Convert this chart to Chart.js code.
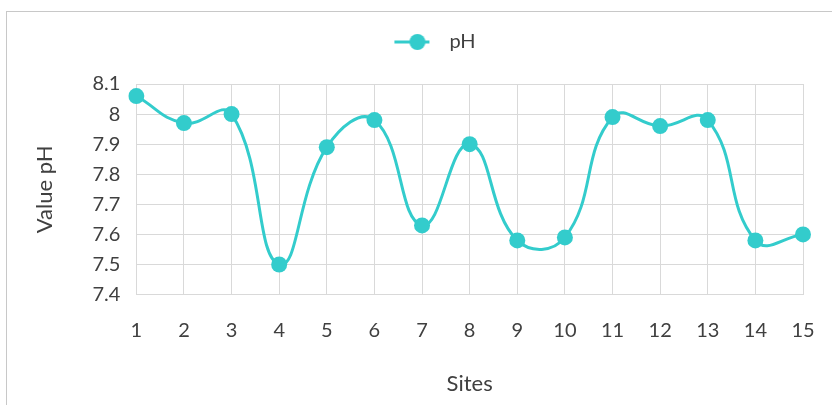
<!DOCTYPE html>
<html>
<head>
<meta charset="utf-8">
<script src="https://cdn.jsdelivr.net/npm/chart.js@4/dist/chart.umd.min.js"></script>
<style>
  html, body { margin: 0; padding: 0; background: #fff; }
  #wrap { position: absolute; left: 0; top: 0; width: 832px; height: 405px; }
  #frame { position: absolute; left: 6px; top: 11px; width: 840px; height: 420px;
           border-top: 1px solid #c8c8c8; border-left: 1px solid #c8c8c8; }
</style>
</head>
<body>
<div id="wrap">
  <div id="frame"></div>
  <canvas id="myChart" width="832" height="405"></canvas>
</div>
<script>
// sites along the x axis
var sites = ['1', '2', '3', '4', '5', '6', '7', '8', '9', '10', '11', '12', '13', '14', '15'];
// pH value at each site
var phValues = [8.06, 7.97, 8.00, 7.50, 7.89, 7.98, 7.63, 7.90, 7.58, 7.59, 7.99, 7.96, 7.98, 7.58, 7.60];
// y axis ticks
var yMin = 7.4, yMax = 8.1, yStep = 0.1;

var teal = '#33CCCC';
var textColor = '#404040';
var fontFamily = 'Lato, "Open Sans", sans-serif';

// line-with-dot marker for the legend, like the spreadsheet one
function legendMarker() {
    var c = document.createElement('canvas');
    c.width = 80; c.height = 20;
    var g = c.getContext('2d');
    g.strokeStyle = teal;
    g.lineWidth = 3;
    g.beginPath(); g.moveTo(35, 10); g.lineTo(70, 10); g.stroke();
    g.fillStyle = teal;
    g.beginPath(); g.arc(58, 10, 8, 0, Math.PI * 2); g.fill();
    return c;
}

// give the legend some extra room underneath
var legendSpace = {
    id: 'legendSpace',
    beforeInit: function (chart) {
        var origFit = chart.legend.fit;
        chart.legend.fit = function () {
            origFit.bind(chart.legend)();
            this.height += 22;
        };
    }
};

var ctx = document.getElementById('myChart').getContext('2d');
var phChart = new Chart(ctx, {
    type: 'line',
    data: {
        labels: sites,
        datasets: [{
            label: 'pH',
            data: phValues,
            borderColor: teal,
            backgroundColor: teal,
            borderWidth: 3,
            pointRadius: 8,
            pointHoverRadius: 8,
            pointBorderWidth: 0,
            tension: 0.45,
            fill: false
        }]
    },
    options: {
        responsive: false,
        animation: false,
        layout: { padding: { left: 32, right: 29, top: 22, bottom: 8 } },
        plugins: {
            tooltip: { enabled: false },
            legend: {
                position: 'top',
                labels: {
                    usePointStyle: true,
                    pointStyleWidth: 80,
                    color: textColor,
                    font: { family: fontFamily, size: 20 },
                    padding: 10,
                    generateLabels: function (chart) {
                        return [{
                            text: 'pH',
                            pointStyle: legendMarker(),
                            fontColor: textColor,
                            datasetIndex: 0
                        }];
                    }
                }
            }
        },
        scales: {
            x: {
                offset: false,
                grid: { color: '#d9d9d9', lineWidth: 1, drawTicks: false },
                border: { color: '#d9d9d9' },
                ticks: { color: textColor, font: { family: fontFamily, size: 20 }, padding: 24, maxRotation: 0 },
                title: { display: true, text: 'Sites', color: textColor,
                         font: { family: fontFamily, size: 22 }, padding: { top: 4, bottom: 0 } },
                afterFit: function (scale) {
                    // labels may hang over the edges, the layout padding covers it
                    scale.paddingLeft = 0;
                    scale.paddingRight = 0;
                }
            },
            y: {
                min: yMin,
                max: yMax,
                grid: { color: '#d9d9d9', lineWidth: 1, drawTicks: false },
                border: { color: '#d9d9d9' },
                ticks: {
                    stepSize: yStep,
                    color: textColor,
                    font: { family: fontFamily, size: 20 },
                    padding: 16,
                    callback: function (v) { return +v.toFixed(1); }
                },
                title: { display: true, text: 'Value pH', color: textColor,
                         font: { family: fontFamily, size: 22 }, padding: { top: 0, bottom: 18 } }
            }
        }
    },
    plugins: [legendSpace]
});
</script>
</body>
</html>
